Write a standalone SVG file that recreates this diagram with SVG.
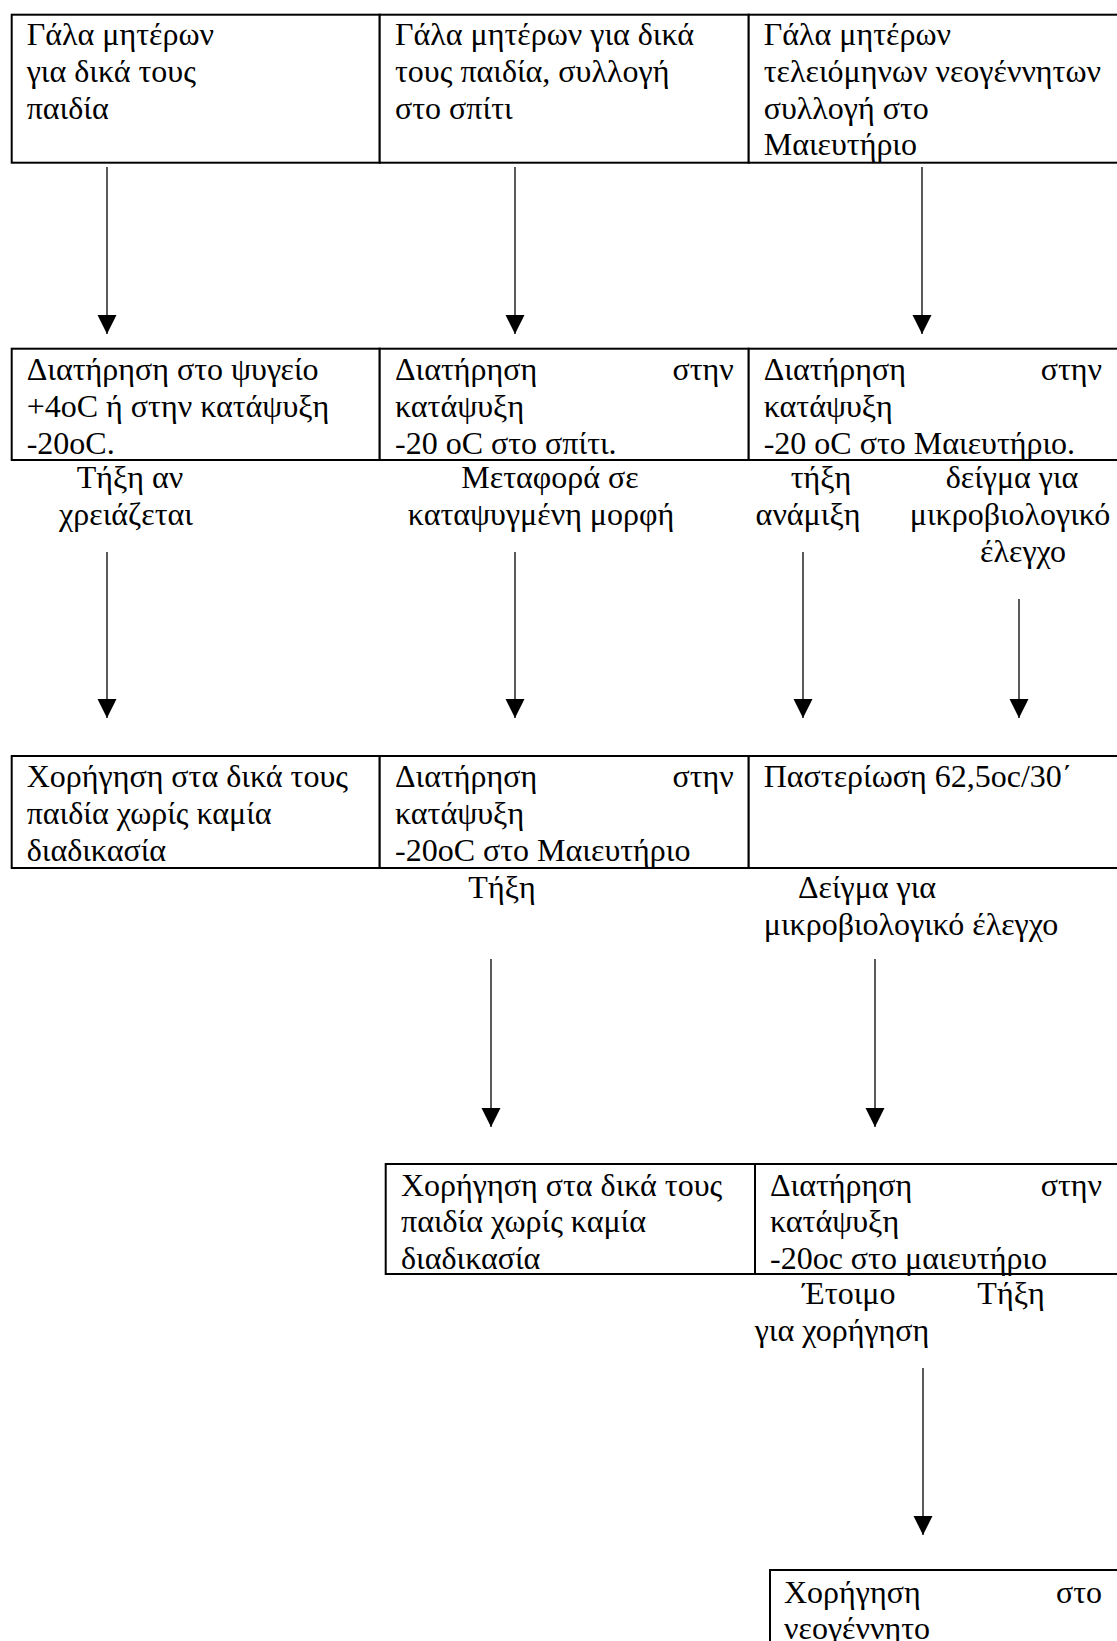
<svg xmlns="http://www.w3.org/2000/svg" width="1117" height="1641" viewBox="0 0 1117 1641">
<defs>
<style>
.cell{fill:#fff;stroke:#000;stroke-width:2}
.t{font-family:"Liberation Serif","Times New Roman",serif;font-size:32px;fill:#000}
.m{text-anchor:middle}
.e{text-anchor:end}
.c{fill:none;stroke:#000;stroke-width:1.3}
</style>
<marker id="ah" markerUnits="userSpaceOnUse" markerWidth="20" markerHeight="20" refX="19" refY="9.5" orient="auto">
<path d="M0,0 L19,9.5 L0,19 z" fill="#000"/>
</marker>
</defs>
<rect width="1117" height="1641" fill="#fff"/>

<g id="connectors">
<path class="c" marker-end="url(#ah)" d="M107,167 V334"/>
<path class="c" marker-end="url(#ah)" d="M515,167 V334"/>
<path class="c" marker-end="url(#ah)" d="M922,167 V334"/>
<path class="c" marker-end="url(#ah)" d="M107,552 V718"/>
<path class="c" marker-end="url(#ah)" d="M515,552 V718"/>
<path class="c" marker-end="url(#ah)" d="M803,552 V718"/>
<path class="c" marker-end="url(#ah)" d="M1019,599 V718"/>
<path class="c" marker-end="url(#ah)" d="M491,959 V1127"/>
<path class="c" marker-end="url(#ah)" d="M875,959 V1127"/>
<path class="c" marker-end="url(#ah)" d="M923,1368 V1535"/>
</g>

<g id="connector-labels" class="t m">
<text x="130" y="488">Τήξη αν</text>
<text x="126" y="525">χρειάζεται</text>
<text x="550" y="488">Μεταφορά σε</text>
<text x="541" y="525">καταψυγμένη μορφή</text>
<text x="821" y="488">τήξη</text>
<text x="808" y="525">ανάμιξη</text>
<text x="1012" y="488">δείγμα για</text>
<text x="1010" y="525">μικροβιολογικό</text>
<text x="1023" y="561.5">έλεγχο</text>
<text x="502" y="898">Τήξη</text>
<text x="867" y="898">Δείγμα για</text>
<text x="911" y="935">μικροβιολογικό έλεγχο</text>
<text x="849" y="1304">Έτοιμο</text>
<text x="1011" y="1304">Τήξη</text>
<text x="842" y="1341">για χορήγηση</text>
</g>

<g id="n1-own-children">
<rect class="cell" x="11.7" y="14.7" width="368" height="148"/>
<text class="t" x="26.7" y="45">Γάλα μητέρων</text>
<text class="t" x="26.7" y="81.8">για δικά τους</text>
<text class="t" x="26.7" y="118.6">παιδία</text>
</g>
<g id="n2-home-collection">
<rect class="cell" x="379.7" y="14.7" width="369" height="148"/>
<text class="t" x="395" y="45">Γάλα μητέρων για δικά</text>
<text class="t" x="395" y="81.8">τους παιδία, συλλογή</text>
<text class="t" x="395" y="118.6">στο σπίτι</text>
</g>
<g id="n3-maternity-collection">
<rect class="cell" x="748.7" y="14.7" width="372" height="148"/>
<text class="t" x="763.7" y="45">Γάλα μητέρων</text>
<text class="t" x="763.7" y="81.8">τελειόμηνων νεογέννητων</text>
<text class="t" x="763.7" y="118.6">συλλογή στο</text>
<text class="t" x="763.7" y="155.4">Μαιευτήριο</text>
</g>

<g id="n4-fridge">
<rect class="cell" x="11.7" y="348.7" width="368" height="111.3"/>
<text class="t" x="26.7" y="380">Διατήρηση στο ψυγείο</text>
<text class="t" x="26.7" y="416.8">+4oC ή στην κατάψυξη</text>
<text class="t" x="26.7" y="453.6">-20oC.</text>
</g>
<g id="n5-home-freezer">
<rect class="cell" x="379.7" y="348.7" width="369" height="111.3"/>
<text class="t" x="395" y="380">Διατήρηση</text>
<text class="t e" x="733.7" y="380">στην</text>
<text class="t" x="395" y="416.8">κατάψυξη</text>
<text class="t" x="395" y="453.6">-20 oC στο σπίτι.</text>
</g>
<g id="n6-maternity-freezer">
<rect class="cell" x="748.7" y="348.7" width="372" height="111.3"/>
<text class="t" x="763.7" y="380">Διατήρηση</text>
<text class="t e" x="1102" y="380">στην</text>
<text class="t" x="763.7" y="416.8">κατάψυξη</text>
<text class="t" x="763.7" y="453.6">-20 oC στο Μαιευτήριο.</text>
</g>

<g id="n7-give-own">
<rect class="cell" x="11.7" y="756" width="368" height="112"/>
<text class="t" x="26.7" y="787">Χορήγηση στα δικά τους</text>
<text class="t" x="26.7" y="823.8">παιδία χωρίς καμία</text>
<text class="t" x="26.7" y="860.6">διαδικασία</text>
</g>
<g id="n8-freezer-maternity">
<rect class="cell" x="379.7" y="756" width="369" height="112"/>
<text class="t" x="395" y="787">Διατήρηση</text>
<text class="t e" x="733.7" y="787">στην</text>
<text class="t" x="395" y="823.8">κατάψυξη</text>
<text class="t" x="395" y="860.6">-20oC στο Μαιευτήριο</text>
</g>
<g id="n9-pasteurisation">
<rect class="cell" x="748.7" y="756" width="372" height="112"/>
<text class="t" x="763.7" y="787">Παστερίωση 62,5oc/30΄</text>
</g>

<g id="n10-give-own">
<rect class="cell" x="385.7" y="1164" width="369.3" height="110"/>
<text class="t" x="401" y="1195.5">Χορήγηση στα δικά τους</text>
<text class="t" x="401" y="1232.3">παιδία χωρίς καμία</text>
<text class="t" x="401" y="1269">διαδικασία</text>
</g>
<g id="n11-freezer-maternity">
<rect class="cell" x="755" y="1164" width="366" height="110"/>
<text class="t" x="770" y="1195.5">Διατήρηση</text>
<text class="t e" x="1102" y="1195.5">στην</text>
<text class="t" x="770" y="1232.3">κατάψυξη</text>
<text class="t" x="770" y="1269">-20oc στο μαιευτήριο</text>
</g>

<g id="n12-give-newborn">
<rect class="cell" x="770" y="1570" width="351" height="90"/>
<text class="t" x="784" y="1602.5">Χορήγηση</text>
<text class="t e" x="1102" y="1602.5">στο</text>
<text class="t" x="784" y="1639.3">νεογέννητο</text>
</g>
</svg>
